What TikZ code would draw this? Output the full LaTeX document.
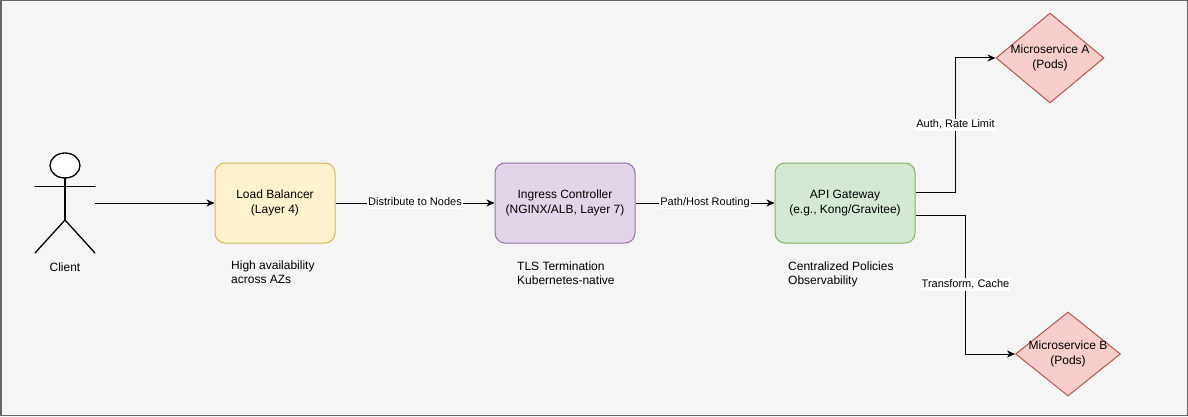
\documentclass[tikz,border=0pt]{standalone}
\usepackage{fontspec}
\setmainfont{Liberation Sans}
\usetikzlibrary{arrows.meta,shapes.geometric,calc}
\definecolor{bgc}{HTML}{F5F5F5}
\definecolor{framec}{HTML}{666666}
\definecolor{ylwF}{HTML}{FFF2CC}\definecolor{ylwD}{HTML}{D6B656}
\definecolor{prpF}{HTML}{E1D5E7}\definecolor{prpD}{HTML}{9673A6}
\definecolor{grnF}{HTML}{D5E8D4}\definecolor{grnD}{HTML}{82B366}
\definecolor{redF}{HTML}{F8CECC}\definecolor{redD}{HTML}{B85450}
\tikzset{
  boxtxt/.style={font=\fontsize{12pt}{14.4pt}\selectfont, align=center},
  procbox/.style={boxtxt, rectangle, rounded corners=10pt, line width=1pt, minimum height=80pt, inner sep=0pt},
  svc/.style={diamond, draw=redD, fill=redF, line width=1pt, inner sep=0pt, minimum width=108pt, minimum height=90pt},
  note/.style={font=\fontsize{12pt}{13.6pt}\selectfont, align=left, anchor=north west, inner sep=0pt},
  conn/.style={line width=1pt, -{Stealth[length=8pt,width=7pt,inset=2.5pt]}},
  elabel/.style={font=\fontsize{11pt}{13pt}\selectfont, fill=white, inner sep=1pt, text height=8pt, text depth=2.5pt},
  stick/.style={line width=1.3pt, line cap=round}
}
\begin{document}
\begin{tikzpicture}[x=1pt,y=-1pt]
\useasboundingbox (0,0) rectangle (1188,417);
\fill[bgc] (0,0) rectangle (1188,417);
\draw[framec, line width=1.5pt] (0.75,0.75) rectangle (1187.25,415.5);

% client actor
\node[minimum width=60pt, minimum height=100pt, inner sep=0pt] (client) at (65,203) {};
\draw[stick, fill=white] (65,165.5) ellipse [x radius=15, y radius=12.5];
\draw[stick] (35,186.7) -- (95,186.7);
\draw[stick] (65,178) -- (65,220);
\draw[stick] (35,253) -- (65,220) -- (95,253);
\node[boxtxt] (clientlbl) at (65,267) {Client};

% boxes
\node[procbox, draw=ylwD, fill=ylwF, minimum width=120pt] (lb) at (275,203) {Load Balancer\\(Layer 4)};
\node[procbox, draw=prpD, fill=prpF, minimum width=140pt] (ing) at (565,203) {Ingress Controller\\(NGINX/ALB, Layer 7)};
\node[procbox, draw=grnD, fill=grnF, minimum width=140pt] (api) at (845,203) {API Gateway\\(e.g., Kong/Gravitee)};

% notes
\node[note] (lbnote) at (231,261) {High availability\\across AZs};
\node[note] (ingnote) at (517,262) {TLS Termination\\Kubernetes-native};
\node[note] (apinote) at (788,262) {Centralized Policies\\Observability};

% microservices
\node[svc] (msa) at (1050,58) {};
\node[boxtxt] (msatxt) at (msa.center) {Microservice A\\(Pods)};
\node[svc, minimum width=105pt, minimum height=84pt] (msb) at (1068,354) {};
\node[boxtxt] (msbtxt) at (msb.center) {Microservice B\\(Pods)};

% connectors
\draw[conn] (client.east) -- (lb.west);
\draw[conn] (lb.east) -- node[elabel] {Distribute to Nodes} (ing.west);
\draw[conn] (ing.east) -- node[elabel] {Path/Host Routing} (api.west);
\draw[conn] ([yshift=11pt]api.east) -- ++(40,0) |- node[elabel, pos=0.25] {Auth, Rate Limit} (msa.west);
\draw[conn] ([yshift=-12pt]api.east) -- ++(50,0) |- node[elabel, pos=0.25] {Transform, Cache} (msb.west);
\end{tikzpicture}
\end{document}
